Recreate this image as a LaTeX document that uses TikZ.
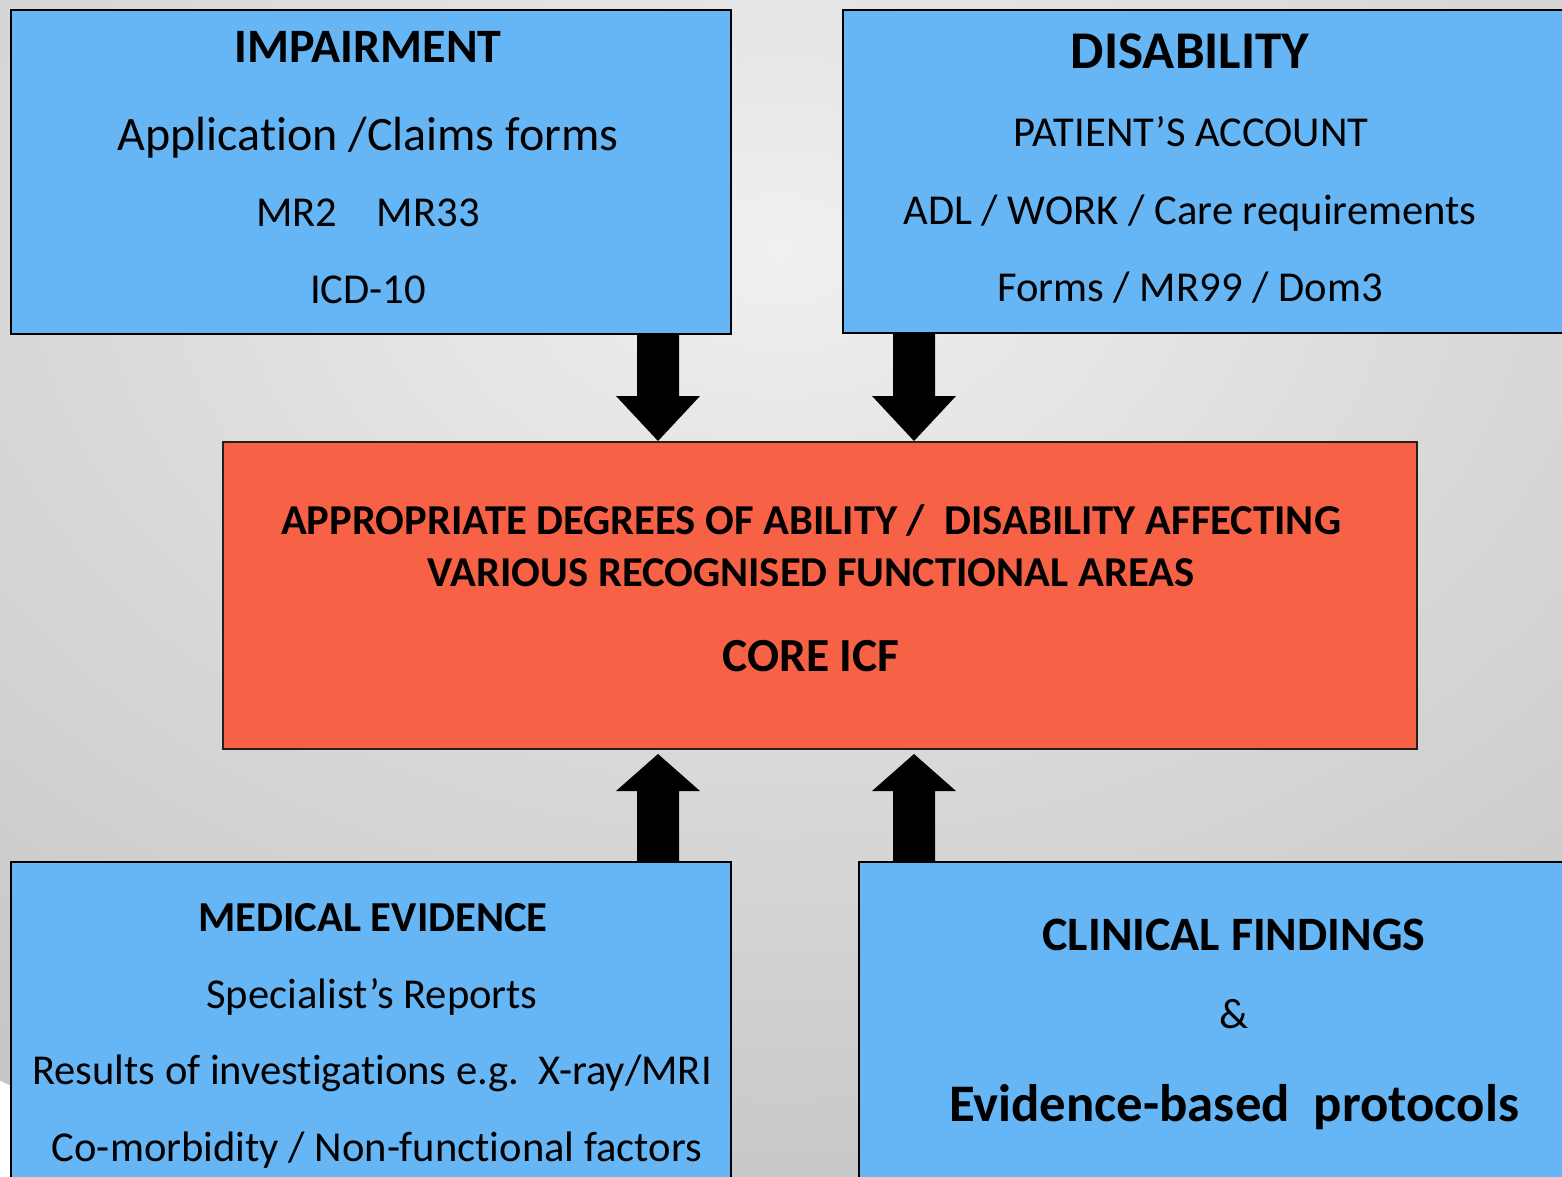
\documentclass[tikz,border=0pt]{standalone}
\usepackage{fontspec}
\setmainfont{Carlito}[Ligatures={NoCommon}]
\usetikzlibrary{calc}
\definecolor{boxblue}{RGB}{102,181,245}
\definecolor{boxorange}{RGB}{247,97,69}
\definecolor{orangeline}{RGB}{40,30,30}
\definecolor{bgA}{HTML}{F0F0F0}
\definecolor{bgB}{HTML}{DEDEDE}
\definecolor{bgC}{HTML}{C2C2C2}
\definecolor{bgD}{HTML}{969696}
\pgfdeclareradialshading{bgshade}{\pgfpoint{0bp}{0bp}}{color(0bp)=(bgA); color(10bp)=(bgB); color(27bp)=(bgC); color(50bp)=(bgD)}
\newcommand\fsz[1]{\fontsize{#1}{#1}\selectfont}
\newcommand\blkarrow[3]{\fill[arrowfill] ($(#1)+(-21,0)$) -- ($(#2)+(-21,#3)$) -- ($(#2)+(-42,#3)$) -- (#2) -- ($(#2)+(42,#3)$) -- ($(#2)+(21,#3)$) -- ($(#1)+(21,0)$) -- cycle;}
\tikzset{
  bluebox/.style={draw=black, line width=2pt, fill=boxblue, rectangle, inner sep=0, anchor=north west},
  orangebox/.style={draw=orangeline, line width=2pt, fill=boxorange, rectangle, inner sep=0, anchor=north west},
  txt/.style={anchor=base, inner sep=0, text=black},
  arrowfill/.style={fill=black}
}
\begin{document}
\begin{tikzpicture}[x=1pt,y=-1pt]
\useasboundingbox (0,0) rectangle (1562,1176);
\begin{scope}
\clip (0,0) rectangle (1562,1176);
\shade[shading=bgshade] (780,250) ellipse [x radius=1400pt, y radius=1000pt];

% boxes
\node[bluebox, minimum width=720, minimum height=324] (imp) at (10,9) {};
\node[bluebox, minimum width=733, minimum height=323] (dis) at (842,9) {};
\node[orangebox, minimum width=1194, minimum height=307] (core) at (222,441) {};
\node[bluebox, minimum width=720, minimum height=330] (med) at (10,861) {};
\node[bluebox, minimum width=717, minimum height=330] (cli) at (858,861) {};

% arrows
\coordinate (xl) at (658,0);
\coordinate (xr) at (914,0);
\coordinate (d1t) at (imp.south -| xl);
\coordinate (d1h) at (core.north -| xl);
\coordinate (d2t) at (dis.south -| xr);
\coordinate (d2h) at (core.north -| xr);
\coordinate (u1t) at (med.north -| xl);
\coordinate (u1h) at ($(core.south -| xl)+(0,4)$);
\coordinate (u2t) at (cli.north -| xr);
\coordinate (u2h) at ($(core.south -| xr)+(0,4)$);
\blkarrow{d1t}{d1h}{-45}
\blkarrow{d2t}{d2h}{-45}
\blkarrow{u1t}{u1h}{37}
\blkarrow{u2t}{u2h}{37}

% impairment texts
\node[txt, font=\fsz{48}\bfseries] (imp1) at (368,62) {IMPAIRMENT};
\node[txt, font=\fsz{48}] (imp2) at (368,150) {Application /Claims forms};
\node[txt, font=\fsz{42.6}] (imp3) at (368,226) {MR2\hspace{0.93em}MR33};
\node[txt, font=\fsz{42.6}] (imp4) at (368,303) {ICD-10};

% disability texts
\node[txt, font=\fsz{53}\bfseries] (dis1) at (1190,68) {DISABILITY};
\node[txt, font=\fsz{42.6}] (dis2) at (1191,146) {PATIENT’S ACCOUNT};
\node[txt, font=\fsz{42.6}] (dis3) at (1190,224) {ADL / WORK / Care requirements};
\node[txt, font=\fsz{42.6}] (dis4) at (1190,301) {Forms / MR99 / Dom3};

% core texts
\node[txt, font=\fsz{42.6}\bfseries] (core1) at (811,534) {APPROPRIATE DEGREES OF ABILITY /\ \ DISABILITY AFFECTING};
\node[txt, font=\fsz{42.6}\bfseries] (core2) at (811,586) {VARIOUS RECOGNISED FUNCTIONAL AREAS};
\node[txt, font=\fsz{47.5}\bfseries] (core3) at (811,671) {CORE ICF};

% medical evidence texts
\node[txt, font=\fsz{42.7}\bfseries] (med1) at (373,931) {MEDICAL EVIDENCE};
\node[txt, font=\fsz{42.6}] (med2) at (372,1008) {Specialist’s Reports};
\node[txt, font=\fsz{42.6}] (med3) at (372,1084) {Results of investigations e.g.\ \ X-ray/MRI};
\node[txt, font=\fsz{42.6}] (med4) at (377,1161) {Co-morbidity / Non-functional factors};

% clinical findings texts
\node[txt, font=\fsz{48}\bfseries] (cli1) at (1234,950) {CLINICAL FINDINGS};
\node[txt, font=\fsz{42.6}] (cli2) at (1234,1028) {\&};
\node[txt, font=\fsz{52.8}\bfseries] (cli3) at (1234,1121) {Evidence-based\ \ protocols};
\end{scope}
\end{tikzpicture}
\end{document}
